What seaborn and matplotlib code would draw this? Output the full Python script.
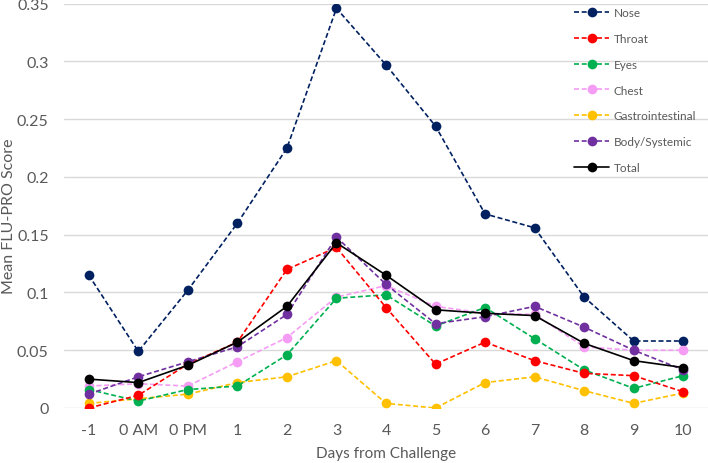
import matplotlib
matplotlib.use("Agg")
import matplotlib.pyplot as plt
import seaborn as sns
import pandas as pd

days = ["-1", "0 AM", "0 PM", "1", "2", "3", "4", "5", "6", "7", "8", "9", "10"]

nose = [0.115, 0.049, 0.102, 0.160, 0.225, 0.346, 0.297, 0.244, 0.168, 0.156, 0.096, 0.058, 0.058]
throat = [0.000, 0.011, 0.038, 0.057, 0.120, 0.139, 0.087, 0.038, 0.057, 0.041, 0.030, 0.028, 0.014]
eyes = [0.016, 0.006, 0.016, 0.019, 0.046, 0.095, 0.098, 0.071, 0.087, 0.060, 0.033, 0.017, 0.028]
chest = [0.019, 0.021, 0.019, 0.040, 0.061, 0.096, 0.106, 0.088, 0.082, 0.081, 0.053, 0.050, 0.050]
gastro = [0.004, 0.008, 0.012, 0.022, 0.027, 0.041, 0.004, 0.000, 0.022, 0.027, 0.015, 0.004, 0.013]
body = [0.012, 0.027, 0.040, 0.053, 0.081, 0.148, 0.107, 0.073, 0.079, 0.088, 0.070, 0.050, 0.033]
total = [0.025, 0.022, 0.037, 0.057, 0.088, 0.143, 0.115, 0.085, 0.082, 0.080, 0.056, 0.041, 0.035]

series_names = ["Nose", "Throat", "Eyes", "Chest", "Gastrointestinal", "Body/Systemic", "Total"]
series_values = [nose, throat, eyes, chest, gastro, body, total]
colors = ["#002060", "#FF0000", "#00B050", "#F59CF5", "#FFC000", "#7030A0", "#000000"]

rows = []
for name, vals in zip(series_names, series_values):
    for d, v in zip(days, vals):
        rows.append({"Day": d, "Score": v, "Series": name})
df = pd.DataFrame(rows)

sns.set_style("white")
plt.rcParams["font.family"] = ["Lato", "DejaVu Sans"]

fig = plt.figure(figsize=(7.08, 4.64), dpi=100)
ax = fig.add_axes([64 / 708, 55 / 464, 1 - 64 / 708, (409 - 4.7) / 464])

draw_order = ["Nose", "Gastrointestinal", "Chest", "Eyes", "Throat", "Body/Systemic", "Total"]
handles = {}
for name in draw_order:
    i = series_names.index(name)
    sub = df[df["Series"] == name]
    sns.lineplot(data=sub, x="Day", y="Score", ax=ax, sort=False, color=colors[i],
                 marker="o", markersize=7, markeredgewidth=0, linewidth=1.2,
                 label=name, zorder=3 + draw_order.index(name))
    line = ax.get_lines()[-1]
    if name != "Total":
        line.set_dashes((3, 1.6))
    handles[name] = line

ax.set_xlim(-0.5, len(days) - 0.5)
ax.set_ylim(0, 0.35)
ax.set_yticks([0, 0.05, 0.1, 0.15, 0.2, 0.25, 0.3, 0.35])
ax.set_yticklabels(["0", "0.05", "0.1", "0.15", "0.2", "0.25", "0.3", "0.35"])
ax.yaxis.grid(True, color="#d9d9d9", linewidth=1.0)
ax.set_axisbelow(True)
for s in ax.spines.values():
    s.set_visible(False)
ax.tick_params(axis="both", length=0, labelsize=11.5, colors="#595959")
ax.tick_params(axis="x", pad=11)
ax.tick_params(axis="y", pad=11)
ax.set_xlabel("Days from Challenge", fontsize=11, color="#595959")
ax.set_ylabel("Mean FLU-PRO Score", fontsize=11.5, color="#595959")
ax.xaxis.set_label_coords(0.5, (409 - 447) / 404.3)
ax.yaxis.set_label_coords((16 - 64) / 644, (409 - 216) / 404.3)

ax.legend([handles[n] for n in series_names], series_names, loc="upper left",
          bbox_to_anchor=(574 / 708, 1 - 8 / 464), bbox_transform=fig.transFigure,
          frameon=False, fontsize=8.5, labelspacing=1.26, handlelength=3.0,
          handletextpad=0.35, borderpad=0, borderaxespad=0, labelcolor="#595959")

fig.savefig("out.png", dpi=100)
